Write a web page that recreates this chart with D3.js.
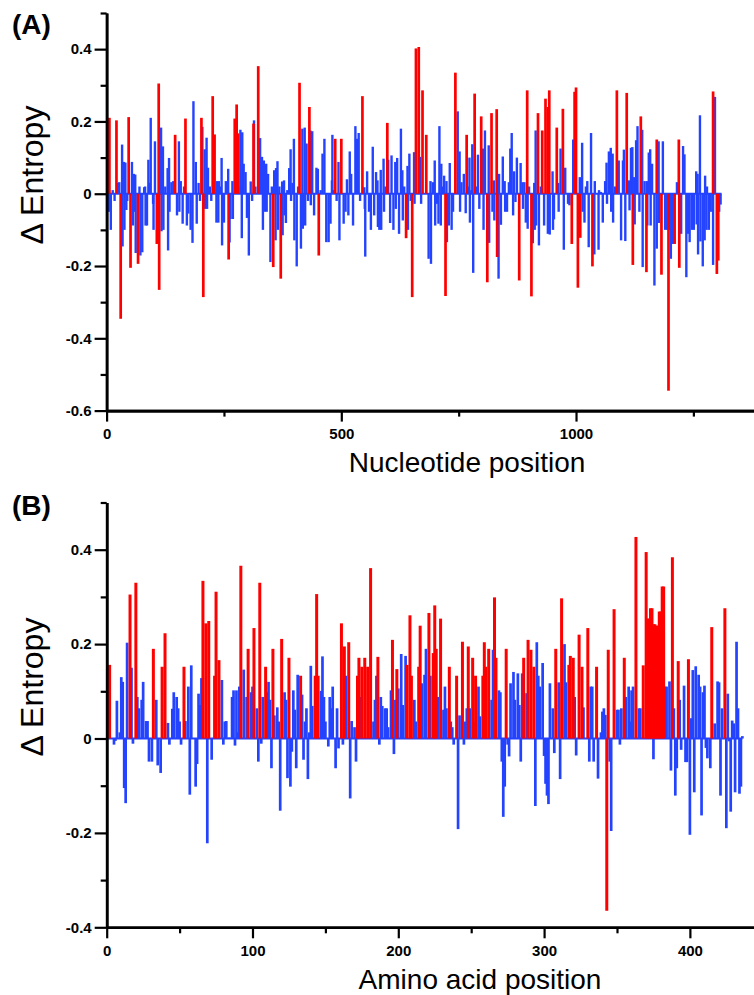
<!DOCTYPE html>
<html>
<head>
<meta charset="utf-8">
<script src="https://cdn.jsdelivr.net/npm/d3@7"></script>
<style>
  body { margin: 0; background: #fff; }
  text { font-family: "Liberation Sans", Arial, Helvetica, sans-serif; }
</style>
</head>
<body>
<script>
// (A) nucleotide position -> delta entropy, [position, value]
const ntBlue = [
  [5,-0.05],[9,-0.10],[13,0.01],[17,-0.02],[24,0.03],[27,0.032],[33,0.136],[34,-0.146],[37,0.088],[38,-0.10],
  [40,0.086],[42,-0.045],[44,-0.02],[54,0.088],[56,-0.088],[58,0.055],[60,-0.05],[61,0.053],[62,-0.164],[70,0.02],
  [72,-0.171],[76,-0.162],[80,0.018],[82,0.02],[83,-0.088],[86,-0.088],[89,0.094],[92,0.03],[94,0.21],[99,-0.028],
  [100,-0.10],[103,0.145],[116,0.183],[117,-0.104],[120,0.131],[121,-0.10],[125,0.02],[130,0.071],[131,-0.157],[133,0.099],
  [134,-0.05],[138,0.032],[142,0.035],[150,-0.06],[154,0.145],[155,-0.05],[158,0.035],[162,-0.083],[165,0.02],[171,-0.088],
  [174,-0.055],[179,-0.10],[183,-0.136],[185,0.256],[190,0.088],[192,-0.083],[196,0.03],[199,-0.02],[204,0.185],[209,0.123],
  [210,-0.042],[213,0.155],[214,-0.042],[216,0.072],[220,0.02],[223,-0.02],[234,-0.08],[235,0.035],[238,-0.08],[239,0.035],
  [242,0.02],[245,0.099],[246,-0.143],[250,-0.08],[254,0.035],[259,0.069],[262,-0.135],[264,-0.07],[268,0.035],[269,-0.07],
  [285,0.177],[286,0.02],[288,-0.123],[289,0.17],[292,0.083],[296,0.06],[299,-0.067],[303,-0.171],[307,0.034],[310,-0.02],
  [314,0.203],[317,0.02],[327,0.154],[331,0.102],[333,-0.10],[335,0.092],[337,-0.05],[340,0.083],[341,-0.05],[344,0.055],
  [349,-0.189],[352,0.02],[357,0.065],[360,-0.129],[361,0.071],[364,0.09],[365,-0.10],[368,0.02],[374,0.034],[375,-0.115],
  [378,0.037],[379,-0.06],[382,-0.081],[385,0.01],[389,0.071],[392,0.123],[393,-0.02],[396,0.03],[399,0.152],[400,-0.129],
  [405,-0.201],[408,0.02],[414,-0.152],[417,0.18],[418,-0.097],[422,0.183],[423,-0.088],[426,0.139],[429,-0.02],[434,0.175],
  [435,-0.032],[438,0.173],[442,-0.06],[447,0.072],[450,0.069],[456,0.01],[460,0.111],[464,0.152],[468,-0.134],[473,-0.134],
  [477,-0.083],[480,0.037],[481,0.163],[484,0.01],[490,-0.02],[494,0.088],[496,-0.129],[505,-0.083],[509,-0.05],[512,0.04],
  [515,-0.06],[518,0.117],[521,0.055],[525,-0.088],[530,0.187],[533,0.152],[537,0.168],[540,-0.02],[549,0.018],[550,-0.042],
  [551,-0.174],[555,0.062],[559,-0.05],[563,-0.10],[567,0.13],[570,-0.06],[574,0.06],[577,0.037],[578,-0.092],[581,-0.10],
  [584,0.066],[585,-0.10],[590,0.097],[591,-0.05],[594,0.02],[600,0.094],[604,-0.081],[607,0.106],[611,-0.10],[615,0.088],
  [616,-0.042],[619,0.099],[623,-0.111],[627,0.18],[630,0.065],[631,-0.074],[634,0.02],[641,0.077],[642,-0.10],[645,0.111],
  [648,-0.02],[655,0.115],[656,-0.028],[668,0.102],[670,-0.028],[686,-0.18],[690,0.035],[691,-0.194],[695,0.032],[699,0.092],
  [700,-0.088],[704,-0.028],[707,-0.083],[709,0.187],[712,-0.088],[713,0.083],[716,0.02],[719,0.05],[724,0.035],[725,-0.134],
  [729,-0.088],[731,0.085],[735,-0.10],[738,-0.05],[748,0.228],[752,0.117],[753,-0.05],[756,0.032],[761,0.055],[765,-0.054],
  [770,0.02],[773,0.10],[774,-0.08],[777,0.01],[779,0.137],[781,-0.219],[787,0.02],[791,0.108],[794,-0.042],[802,0.125],
  [803,-0.10],[806,0.175],[814,0.134],[815,-0.136],[822,-0.05],[825,0.037],[826,-0.074],[835,-0.235],[836,0.055],[840,-0.086],
  [844,0.103],[848,0.035],[849,-0.05],[853,-0.05],[857,0.032],[860,0.125],[863,0.168],[866,-0.06],[868,0.062],[871,-0.023],
  [874,0.10],[882,0.085],[886,0.032],[887,-0.042],[890,0.032],[893,-0.08],[897,-0.097],[900,0.02],[908,-0.137],[911,0.03],
  [912,-0.10],[914,0.175],[915,-0.088],[921,-0.143],[925,0.02],[932,-0.088],[940,-0.111],[944,-0.113],[950,0.062],[951,-0.10],
  [953,-0.071],[962,0.03],[963,-0.05],[967,0.125],[974,-0.155],[977,0.072],[983,-0.028],[986,-0.032],[994,0.15],[1008,0.046],
  [1013,0.141],[1014,-0.05],[1018,-0.08],[1021,0.02],[1024,0.035],[1027,-0.148],[1032,0.168],[1039,-0.168],[1040,0.035],[1048,-0.155],
  [1049,0.01],[1053,0.005],[1057,-0.08],[1062,0.035],[1065,0.086],[1066,-0.028],[1070,0.117],[1074,0.127],[1075,-0.05],[1078,0.111],
  [1079,-0.08],[1083,0.02],[1091,0.092],[1096,-0.129],[1100,0.092],[1102,0.122],[1105,-0.131],[1113,0.037],[1114,-0.046],[1117,0.127],
  [1120,0.129],[1124,0.046],[1125,-0.085],[1128,0.148],[1131,0.187],[1135,-0.05],[1141,0.177],[1142,-0.203],[1146,0.035],[1151,0.035],
  [1152,-0.088],[1155,0.114],[1158,0.123],[1159,-0.088],[1162,0.083],[1167,-0.254],[1172,-0.152],[1176,0.145],[1177,-0.081],[1185,0.145],
  [1190,-0.10],[1194,-0.10],[1198,-0.10],[1202,-0.18],[1206,-0.139],[1215,0.032],[1224,-0.111],[1228,0.132],[1231,0.109],[1235,-0.231],
  [1239,-0.111],[1242,-0.134],[1247,-0.10],[1251,-0.10],[1256,0.062],[1257,-0.085],[1259,0.055],[1260,-0.168],[1264,0.217],[1265,-0.132],
  [1270,-0.201],[1274,-0.129],[1275,0.05],[1278,-0.10],[1279,0.02],[1283,-0.10],[1287,-0.05],[1292,-0.197],[1296,0.268],[1305,-0.05],
  [1308,-0.03]
];
const ntRed = [
  [6,0.21],[21,0.203],[30,-0.346],[47,0.212],[51,-0.205],[67,-0.194],[107,-0.139],[111,0.305],[112,-0.266],[146,0.163],
  [168,0.208],[202,0.21],[206,-0.286],[226,0.27],[230,0.164],[260,-0.182],[273,0.208],[277,0.247],[280,0.167],[313,0.194],
  [323,0.353],[355,-0.203],[371,-0.235],[411,0.307],[432,0.24],[452,-0.171],[487,0.152],[500,0.152],[545,0.27],[598,0.196],
  [638,-0.123],[651,-0.286],[659,0.402],[665,0.406],[673,0.286],[681,0.163],[722,-0.283],[743,0.335],[767,0.163],[784,0.277],
  [798,0.214],[811,-0.245],[820,0.223],[831,0.234],[832,-0.175],[879,-0.24],[896,0.286],[905,-0.284],[919,0.223],[928,0.175],
  [935,0.263],[940,0.24],[943,0.286],[959,0.183],[972,0.235],[991,-0.139],[997,0.282],[1000,0.294],[1004,-0.26],[1009,-0.122],
  [1035,-0.201],[1087,0.286],[1108,0.279],[1121,-0.197],[1138,0.214],[1150,-0.217],[1172,0.15],[1182,-0.224],[1197,-0.545],[1210,-0.139],
  [1219,0.15],[1220,-0.205],[1292,0.283],[1300,-0.222],[1303,-0.185]
];

// (B) amino acid position -> delta entropy, [position, value]
const aaBlue = [
  [5,-0.013],[6,-0.005],[7,0.08],[9,0.013],[10,0.13],[11,0.12],[12,-0.105],[13,-0.137],[14,0.203],[17,0.15],
  [18,-0.011],[21,0.088],[22,0.064],[24,0.082],[25,0.12],[27,0.037],[28,0.037],[29,-0.049],[31,-0.049],[34,0.082],
  [35,-0.057],[37,-0.073],[42,0.033],[43,-0.013],[45,0.063],[46,0.098],[48,0.088],[49,0.064],[50,0.036],[51,-0.013],
  [54,0.037],[56,0.11],[57,-0.119],[58,0.155],[61,-0.102],[62,-0.054],[63,0.095],[64,0.071],[65,0.128],[69,-0.222],
  [72,-0.045],[79,0.124],[80,-0.013],[81,0.036],[82,0.037],[84,0.002],[86,0.088],[87,0.102],[88,-0.015],[89,0.102],
  [90,0.013],[91,0.11],[94,0.146],[96,0.088],[99,0.098],[100,0.11],[103,0.064],[104,-0.049],[106,-0.011],[107,0.088],
  [110,0.098],[111,0.12],[112,0.082],[113,-0.063],[115,0.049],[117,0.066],[118,0.036],[119,-0.153],[122,0.098],[123,0.082],
  [124,-0.084],[126,-0.102],[127,-0.028],[128,0.102],[129,0.061],[130,-0.063],[131,0.135],[134,0.093],[135,-0.045],[136,0.036],
  [137,0.064],[138,-0.086],[139,0.013],[140,0.154],[141,0.069],[147,0.101],[148,0.174],[149,0.088],[150,0.036],[152,-0.017],
  [153,0.088],[154,0.064],[155,0.11],[157,-0.063],[158,0.064],[159,-0.021],[162,-0.013],[164,0.133],[167,-0.127],[168,0.037],
  [170,0.024],[171,-0.049],[174,0.088],[183,0.036],[184,0.082],[185,0.133],[187,-0.013],[188,0.088],[189,0.069],[191,0.064],
  [192,0.064],[193,0.024],[195,0.102],[197,-0.033],[198,0.082],[200,0.106],[202,0.179],[203,0.071],[205,0.175],[211,0.082],
  [212,0.036],[216,0.117],[218,0.135],[219,0.19],[222,0.133],[227,0.088],[231,0.061],[232,0.11],[233,0.064],[236,0.036],
  [237,0.024],[238,-0.013],[241,-0.192],[242,0.049],[245,-0.013],[246,0.036],[247,0.064],[249,0.064],[252,0.036],[255,0.11],
  [256,0.047],[264,0.082],[265,0.188],[269,0.102],[270,0.098],[271,-0.049],[272,-0.166],[273,-0.102],[275,-0.013],[276,-0.038],
  [277,0.117],[279,0.141],[280,0.082],[282,0.138],[283,0.071],[284,-0.049],[285,0.138],[288,0.096],[294,-0.143],[295,0.204],
  [296,0.133],[297,0.11],[299,0.16],[300,-0.037],[301,-0.096],[302,-0.121],[303,-0.139],[304,0.117],[306,0.064],[307,-0.031],
  [310,0.119],[311,-0.086],[314,0.2],[315,0.119],[321,0.088],[322,-0.036],[327,0.066],[331,-0.049],[332,0.11],[333,0.11],
  [334,-0.049],[337,-0.085],[339,0.013],[340,0.057],[341,0.064],[342,0.05],[345,-0.049],[346,-0.196],[350,0.061],[351,0.061],
  [352,-0.013],[353,0.064],[356,0.088],[358,0.11],[359,0.036],[360,0.102],[361,0.11],[365,0.064],[366,0.064],[375,-0.044],
  [383,0.11],[384,0.11],[386,0.121],[387,-0.068],[389,0.064],[390,-0.121],[391,-0.063],[393,0.082],[394,-0.024],[396,0.112],
  [397,-0.05],[398,-0.05],[400,-0.204],[401,0.043],[402,0.145],[403,-0.114],[404,0.153],[406,0.135],[407,0.11],[408,-0.163],
  [409,0.098],[410,0.112],[411,-0.02],[412,-0.042],[414,-0.063],[417,0.032],[419,0.121],[420,0.119],[421,-0.121],[422,0.064],
  [425,-0.19],[426,0.095],[427,-0.006],[428,-0.155],[429,0.038],[430,0.032],[431,-0.114],[432,0.205],[433,0.064],[434,-0.117],
  [435,-0.102],[436,0.005]
];
const aaRed = [
  [2,0.156],[16,0.305],[20,0.33],[32,0.19],[38,0.152],[40,0.223],[53,0.152],[66,0.334],[68,0.244],[70,0.249],
  [74,0.133],[75,0.311],[77,0.166],[92,0.366],[97,0.19],[101,0.234],[105,0.33],[109,0.152],[114,0.19],[120,0.211],
  [125,0.171],[133,0.133],[143,0.133],[144,0.306],[145,0.133],[161,0.244],[163,0.195],[166,0.204],[172,0.133],[173,0.171],
  [175,0.152],[177,0.171],[179,0.152],[181,0.361],[186,0.173],[196,0.209],[199,0.147],[206,0.156],[208,0.261],[209,0.133],
  [214,0.152],[215,0.239],[221,0.266],[224,0.181],[225,0.282],[226,0.19],[229,0.254],[235,0.152],[240,0.133],[244,0.205],
  [248,0.195],[251,0.171],[253,0.133],[258,0.133],[259,0.204],[260,0.152],[262,0.19],[266,0.299],[267,0.171],[274,0.19],
  [286,0.171],[289,0.209],[291,0.188],[293,0.152],[308,0.19],[312,0.297],[317,0.156],[318,0.175],[320,0.171],[324,0.22],
  [326,0.152],[330,0.234],[336,0.152],[343,-0.365],[344,0.188],[348,0.274],[355,0.171],[363,0.427],[368,0.155],[370,0.395],
  [371,0.254],[372,0.254],[373,0.276],[374,0.276],[375,0.242],[376,0.242],[377,0.239],[378,0.239],[379,0.269],[380,0.269],
  [381,0.322],[382,0.322],[388,0.384],[392,0.164],[399,0.168],[415,0.236],[424,0.276]
];

// axis ticks
const ntXTicks = [0, 500, 1000], ntXMinor = [250, 750, 1250];
const aaXTicks = [0, 100, 200, 300, 400], aaXMinor = [50, 150, 250, 350];
const ntYTicks = [-0.6, -0.4, -0.2, 0, 0.2, 0.4], ntYMinor = [-0.5, -0.3, -0.1, 0.1, 0.3, 0.5];
const aaYTicks = [-0.4, -0.2, 0, 0.2, 0.4], aaYMinor = [-0.3, -0.1, 0.1, 0.3, 0.5];

const BLUE = "#2443ff", RED = "#ff0000";

const svg = d3.select("body").append("svg")
    .attr("width", 754)
    .attr("height", 995);

function drawPanel(p) {
    const x = d3.scaleLinear().domain(p.xDomain).range([p.left, p.right]);
    const y = d3.scaleLinear().domain(p.yDomain).range([p.bottom, p.top]);
    const g = svg.append("g");

    // zero baseline of tiny bars
    g.append("line")
        .attr("x1", x(p.first)).attr("x2", x(p.last))
        .attr("y1", y(0)).attr("y2", y(0))
        .attr("stroke", BLUE).attr("stroke-width", 2.2);

    g.append("g").selectAll("line")
        .data(p.blue)
        .join("line")
        .attr("x1", d => x(d[0])).attr("x2", d => x(d[0]))
        .attr("y1", y(0)).attr("y2", d => y(d[1]))
        .attr("stroke", BLUE)
        .attr("stroke-width", p.barWidth);

    g.append("g").selectAll("line")
        .data(p.red)
        .join("line")
        .attr("x1", d => x(d[0])).attr("x2", d => x(d[0]))
        .attr("y1", y(0)).attr("y2", d => y(d[1]))
        .attr("stroke", RED)
        .attr("stroke-width", p.barWidth + 0.3);

    // y axis
    const yAxis = g.append("g").attr("transform", `translate(${p.left},0)`);
    yAxis.call(d3.axisLeft(y).tickValues(p.yMinor).tickSize(6).tickSizeOuter(0).tickFormat(""));
    yAxis.append("g").call(d3.axisLeft(y).tickValues(p.yTicks).tickSize(12).tickSizeOuter(0).tickPadding(3)
        .tickFormat(d => d === 0 ? "0" : String(d)));

    // x axis
    const xAxis = g.append("g").attr("transform", `translate(0,${p.bottom})`);
    xAxis.call(d3.axisBottom(x).tickValues(p.xMinor).tickSize(6).tickSizeOuter(0).tickFormat(""));
    xAxis.append("g").call(d3.axisBottom(x).tickValues(p.xTicks).tickSize(11).tickSizeOuter(0).tickPadding(7)
        .tickFormat(d => String(d)));

    g.selectAll(".domain").attr("stroke", "#000").attr("stroke-width", 2.6);
    g.selectAll(".tick line").attr("stroke", "#000").attr("stroke-width", 2.2);
    g.selectAll(".tick text")
        .attr("fill", "#000")
        .style("font-size", "15px")
        .style("font-weight", "bold")
        .style("font-family", '"Liberation Sans", Arial, sans-serif');

    svg.append("text")
        .attr("x", 12).attr("y", p.tagY)
        .style("font-size", "28px").style("font-weight", "bold")
        .text(p.tag);

    svg.append("text")
        .attr("transform", `translate(43,${p.yLabelY}) rotate(-90)`)
        .attr("text-anchor", "middle")
        .style("font-size", "32px")
        .text("\u0394 Entropy");

    svg.append("text")
        .attr("x", p.xLabelX).attr("y", p.xLabelY)
        .attr("text-anchor", "middle")
        .style("font-size", "28px")
        .text(p.xLabel);
}

drawPanel({
    blue: ntBlue, red: ntRed, first: 1, last: 1310,
    xDomain: [0, 1380], left: 106.6, right: 754.4,
    yDomain: [-0.6, 0.5], bottom: 410.6, top: 13,
    xTicks: ntXTicks, xMinor: ntXMinor, yTicks: ntYTicks, yMinor: ntYMinor,
    barWidth: 2.4,
    tag: "(A)", tagY: 34, yLabelY: 175,
    xLabel: "Nucleotide position", xLabelX: 467, xLabelY: 472
});

drawPanel({
    blue: aaBlue, red: aaRed, first: 1, last: 436,
    xDomain: [0, 445], left: 106.7, right: 755.5,
    yDomain: [-0.4, 0.5], bottom: 927.3, top: 502.5,
    xTicks: aaXTicks, xMinor: aaXMinor, yTicks: aaYTicks, yMinor: aaYMinor,
    barWidth: 2.7,
    tag: "(B)", tagY: 515, yLabelY: 687,
    xLabel: "Amino acid position", xLabelX: 480, xLabelY: 989
});
</script>
</body>
</html>
